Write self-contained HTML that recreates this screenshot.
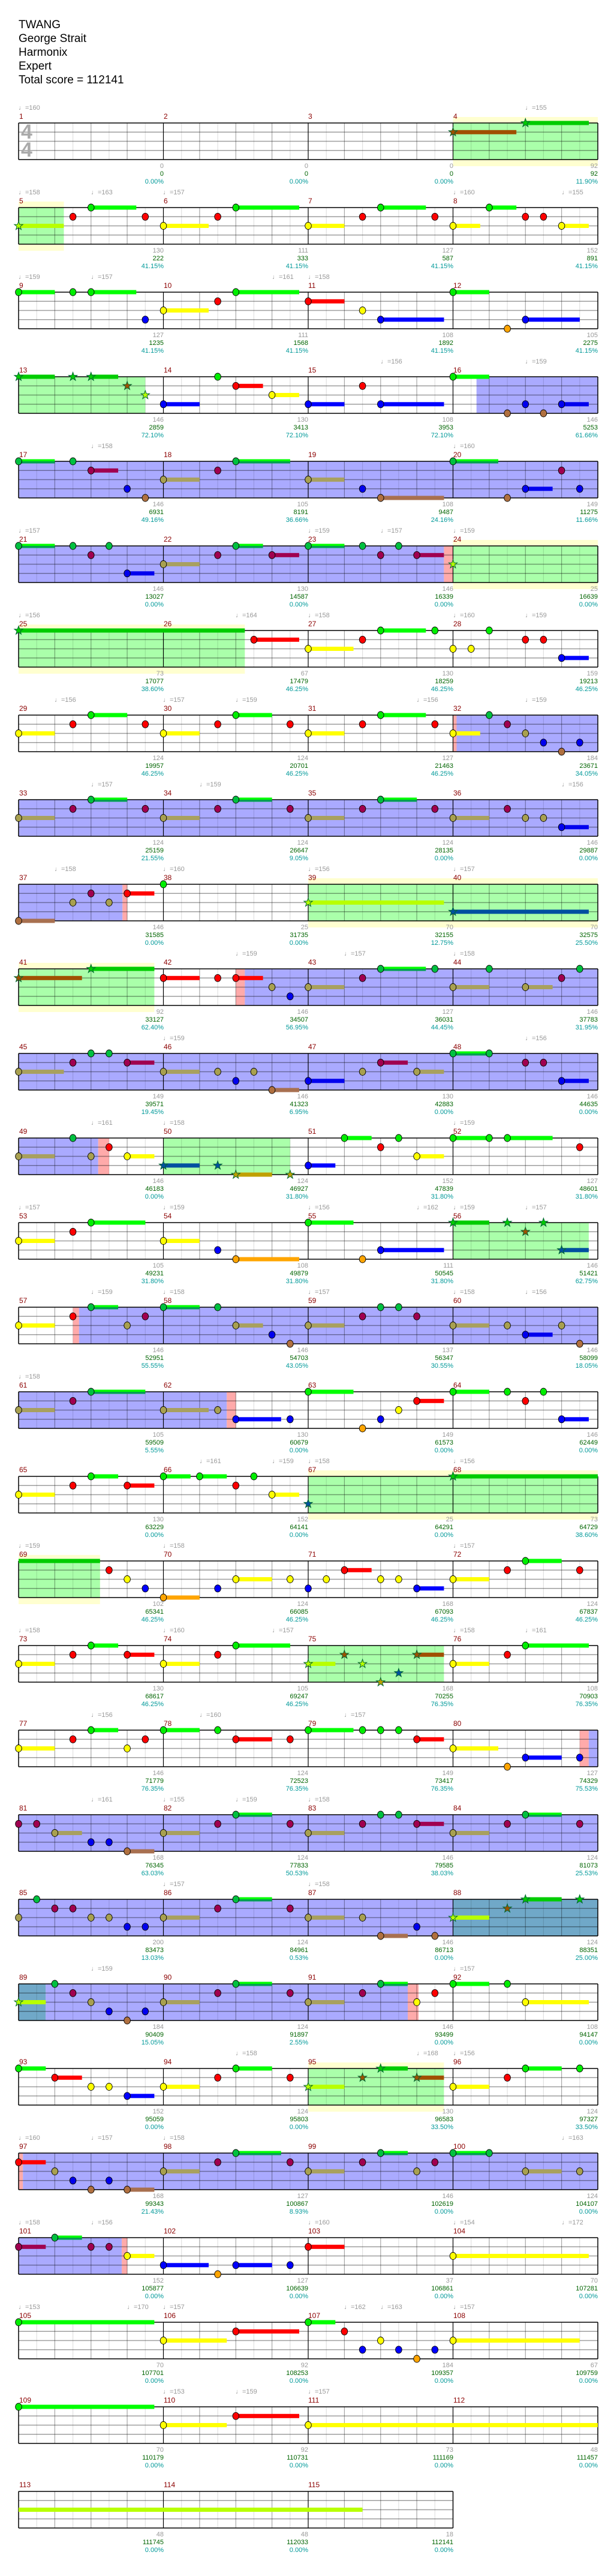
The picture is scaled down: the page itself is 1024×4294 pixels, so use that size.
<!DOCTYPE html>
<html><head><meta charset="utf-8">
<style>
body{margin:0;width:1024px;height:4294px;background:#fff;position:relative;overflow:hidden;font-family:"Liberation Sans","DejaVu Sans",sans-serif}
#svg{position:absolute;left:0;top:0}
.title{position:absolute;left:31px;top:30px;font:19px/23px "Liberation Sans",sans-serif;color:#000}
.ts{position:absolute;left:35px;font:bold 34px/34px "Liberation Sans",sans-serif;color:#aaa}
.r{position:absolute;left:0;width:1024px;height:1px}
.r i{position:absolute;top:-18px;font:12px/14px "Liberation Sans",sans-serif;color:#8b0000;font-style:normal}
.r u{position:absolute;top:-31px;font:11px/13px "Liberation Sans","DejaVu Sans",sans-serif;color:#999;text-decoration:none;white-space:nowrap}
.r p{position:absolute;top:66px;margin:0;text-align:right;font:11px/13px "Liberation Sans",sans-serif;color:#999}
.r p b{font-weight:normal;color:#006400}
.r p var{font-style:normal;color:#009999}
</style></head><body>
<svg id="svg" width="1024" height="4294" xmlns="http://www.w3.org/2000/svg"></svg>
<div class="title">TWANG<br>George Strait<br>Harmonix<br>Expert<br>Total score = 112141</div>
<div class="ts" style="top:203px">4</div>
<div class="ts" style="top:233px">4</div>

<div class="r" style="top:205px"><u style="left:31px">♩=160</u><u style="left:876px">♩=155</u>
<i style="left:32px">1</i><i style="left:273px">2</i><i style="left:514px">3</i><i style="left:756px">4</i>
<p style="right:751px">0<br><b>0</b><br><var>0.00%</var></p><p style="right:510px">0<br><b>0</b><br><var>0.00%</var></p><p style="right:268px">0<br><b>0</b><br><var>0.00%</var></p><p style="right:27px">92<br><b>92</b><br><var>11.90%</var></p></div>

<div class="r" style="top:346px"><u style="left:31px">♩=158</u><u style="left:152px">♩=163</u><u style="left:272px">♩=157</u><u style="left:756px">♩=160</u><u style="left:937px">♩=155</u>
<i style="left:32px">5</i><i style="left:273px">6</i><i style="left:514px">7</i><i style="left:756px">8</i>
<p style="right:751px">130<br><b>222</b><br><var>41.15%</var></p><p style="right:510px">111<br><b>333</b><br><var>41.15%</var></p><p style="right:268px">127<br><b>587</b><br><var>41.15%</var></p><p style="right:27px">152<br><b>891</b><br><var>41.15%</var></p></div>

<div class="r" style="top:487px"><u style="left:31px">♩=159</u><u style="left:152px">♩=157</u><u style="left:454px">♩=161</u><u style="left:514px">♩=158</u>
<i style="left:32px">9</i><i style="left:273px">10</i><i style="left:514px">11</i><i style="left:756px">12</i>
<p style="right:751px">127<br><b>1235</b><br><var>41.15%</var></p><p style="right:510px">111<br><b>1568</b><br><var>41.15%</var></p><p style="right:268px">108<br><b>1892</b><br><var>41.15%</var></p><p style="right:27px">105<br><b>2275</b><br><var>41.15%</var></p></div>

<div class="r" style="top:628px"><u style="left:635px">♩=156</u><u style="left:876px">♩=159</u>
<i style="left:32px">13</i><i style="left:273px">14</i><i style="left:514px">15</i><i style="left:756px">16</i>
<p style="right:751px">146<br><b>2859</b><br><var>72.10%</var></p><p style="right:510px">130<br><b>3413</b><br><var>72.10%</var></p><p style="right:268px">108<br><b>3953</b><br><var>72.10%</var></p><p style="right:27px">146<br><b>5253</b><br><var>61.66%</var></p></div>

<div class="r" style="top:769px"><u style="left:152px">♩=158</u><u style="left:756px">♩=160</u>
<i style="left:32px">17</i><i style="left:273px">18</i><i style="left:514px">19</i><i style="left:756px">20</i>
<p style="right:751px">146<br><b>6931</b><br><var>49.16%</var></p><p style="right:510px">105<br><b>8191</b><br><var>36.66%</var></p><p style="right:268px">108<br><b>9487</b><br><var>24.16%</var></p><p style="right:27px">149<br><b>11275</b><br><var>11.66%</var></p></div>

<div class="r" style="top:910px"><u style="left:31px">♩=157</u><u style="left:514px">♩=159</u><u style="left:635px">♩=157</u><u style="left:756px">♩=159</u>
<i style="left:32px">21</i><i style="left:273px">22</i><i style="left:514px">23</i><i style="left:756px">24</i>
<p style="right:751px">146<br><b>13027</b><br><var>0.00%</var></p><p style="right:510px">130<br><b>14587</b><br><var>0.00%</var></p><p style="right:268px">146<br><b>16339</b><br><var>0.00%</var></p><p style="right:27px">25<br><b>16639</b><br><var>0.00%</var></p></div>

<div class="r" style="top:1051px"><u style="left:31px">♩=156</u><u style="left:393px">♩=164</u><u style="left:514px">♩=158</u><u style="left:756px">♩=160</u><u style="left:876px">♩=159</u>
<i style="left:32px">25</i><i style="left:273px">26</i><i style="left:514px">27</i><i style="left:756px">28</i>
<p style="right:751px">73<br><b>17077</b><br><var>38.60%</var></p><p style="right:510px">67<br><b>17479</b><br><var>46.25%</var></p><p style="right:268px">130<br><b>18259</b><br><var>46.25%</var></p><p style="right:27px">159<br><b>19213</b><br><var>46.25%</var></p></div>

<div class="r" style="top:1192px"><u style="left:91px">♩=156</u><u style="left:272px">♩=157</u><u style="left:393px">♩=159</u><u style="left:695px">♩=156</u><u style="left:876px">♩=159</u>
<i style="left:32px">29</i><i style="left:273px">30</i><i style="left:514px">31</i><i style="left:756px">32</i>
<p style="right:751px">124<br><b>19957</b><br><var>46.25%</var></p><p style="right:510px">124<br><b>20701</b><br><var>46.25%</var></p><p style="right:268px">127<br><b>21463</b><br><var>46.25%</var></p><p style="right:27px">184<br><b>23671</b><br><var>34.05%</var></p></div>

<div class="r" style="top:1333px"><u style="left:152px">♩=157</u><u style="left:333px">♩=159</u><u style="left:937px">♩=156</u>
<i style="left:32px">33</i><i style="left:273px">34</i><i style="left:514px">35</i><i style="left:756px">36</i>
<p style="right:751px">124<br><b>25159</b><br><var>21.55%</var></p><p style="right:510px">124<br><b>26647</b><br><var>9.05%</var></p><p style="right:268px">124<br><b>28135</b><br><var>0.00%</var></p><p style="right:27px">146<br><b>29887</b><br><var>0.00%</var></p></div>

<div class="r" style="top:1474px"><u style="left:91px">♩=158</u><u style="left:272px">♩=160</u><u style="left:514px">♩=156</u><u style="left:756px">♩=157</u>
<i style="left:32px">37</i><i style="left:273px">38</i><i style="left:514px">39</i><i style="left:756px">40</i>
<p style="right:751px">146<br><b>31585</b><br><var>0.00%</var></p><p style="right:510px">25<br><b>31735</b><br><var>0.00%</var></p><p style="right:268px">70<br><b>32155</b><br><var>12.75%</var></p><p style="right:27px">70<br><b>32575</b><br><var>25.50%</var></p></div>

<div class="r" style="top:1615px"><u style="left:393px">♩=159</u><u style="left:574px">♩=157</u><u style="left:756px">♩=158</u>
<i style="left:32px">41</i><i style="left:273px">42</i><i style="left:514px">43</i><i style="left:756px">44</i>
<p style="right:751px">92<br><b>33127</b><br><var>62.40%</var></p><p style="right:510px">146<br><b>34507</b><br><var>56.95%</var></p><p style="right:268px">127<br><b>36031</b><br><var>44.45%</var></p><p style="right:27px">146<br><b>37783</b><br><var>31.95%</var></p></div>

<div class="r" style="top:1756px"><u style="left:272px">♩=159</u><u style="left:876px">♩=156</u>
<i style="left:32px">45</i><i style="left:273px">46</i><i style="left:514px">47</i><i style="left:756px">48</i>
<p style="right:751px">149<br><b>39571</b><br><var>19.45%</var></p><p style="right:510px">146<br><b>41323</b><br><var>6.95%</var></p><p style="right:268px">130<br><b>42883</b><br><var>0.00%</var></p><p style="right:27px">146<br><b>44635</b><br><var>0.00%</var></p></div>

<div class="r" style="top:1897px"><u style="left:152px">♩=161</u><u style="left:272px">♩=158</u><u style="left:756px">♩=159</u>
<i style="left:32px">49</i><i style="left:273px">50</i><i style="left:514px">51</i><i style="left:756px">52</i>
<p style="right:751px">146<br><b>46183</b><br><var>0.00%</var></p><p style="right:510px">124<br><b>46927</b><br><var>31.80%</var></p><p style="right:268px">152<br><b>47839</b><br><var>31.80%</var></p><p style="right:27px">127<br><b>48601</b><br><var>31.80%</var></p></div>

<div class="r" style="top:2038px"><u style="left:31px">♩=157</u><u style="left:272px">♩=159</u><u style="left:514px">♩=156</u><u style="left:695px">♩=162</u><u style="left:756px">♩=159</u><u style="left:876px">♩=157</u>
<i style="left:32px">53</i><i style="left:273px">54</i><i style="left:514px">55</i><i style="left:756px">56</i>
<p style="right:751px">105<br><b>49231</b><br><var>31.80%</var></p><p style="right:510px">108<br><b>49879</b><br><var>31.80%</var></p><p style="right:268px">111<br><b>50545</b><br><var>31.80%</var></p><p style="right:27px">146<br><b>51421</b><br><var>62.75%</var></p></div>

<div class="r" style="top:2179px"><u style="left:152px">♩=159</u><u style="left:272px">♩=158</u><u style="left:514px">♩=157</u><u style="left:756px">♩=158</u><u style="left:876px">♩=156</u>
<i style="left:32px">57</i><i style="left:273px">58</i><i style="left:514px">59</i><i style="left:756px">60</i>
<p style="right:751px">146<br><b>52951</b><br><var>55.55%</var></p><p style="right:510px">146<br><b>54703</b><br><var>43.05%</var></p><p style="right:268px">137<br><b>56347</b><br><var>30.55%</var></p><p style="right:27px">146<br><b>58099</b><br><var>18.05%</var></p></div>

<div class="r" style="top:2320px"><u style="left:31px">♩=158</u>
<i style="left:32px">61</i><i style="left:273px">62</i><i style="left:514px">63</i><i style="left:756px">64</i>
<p style="right:751px">105<br><b>59509</b><br><var>5.55%</var></p><p style="right:510px">130<br><b>60679</b><br><var>0.00%</var></p><p style="right:268px">149<br><b>61573</b><br><var>0.00%</var></p><p style="right:27px">146<br><b>62449</b><br><var>0.00%</var></p></div>

<div class="r" style="top:2461px"><u style="left:333px">♩=161</u><u style="left:454px">♩=159</u><u style="left:514px">♩=158</u><u style="left:756px">♩=156</u>
<i style="left:32px">65</i><i style="left:273px">66</i><i style="left:514px">67</i><i style="left:756px">68</i>
<p style="right:751px">130<br><b>63229</b><br><var>0.00%</var></p><p style="right:510px">152<br><b>64141</b><br><var>0.00%</var></p><p style="right:268px">25<br><b>64291</b><br><var>0.00%</var></p><p style="right:27px">73<br><b>64729</b><br><var>38.60%</var></p></div>

<div class="r" style="top:2602px"><u style="left:31px">♩=159</u><u style="left:272px">♩=158</u><u style="left:756px">♩=157</u>
<i style="left:32px">69</i><i style="left:273px">70</i><i style="left:514px">71</i><i style="left:756px">72</i>
<p style="right:751px">102<br><b>65341</b><br><var>46.25%</var></p><p style="right:510px">124<br><b>66085</b><br><var>46.25%</var></p><p style="right:268px">168<br><b>67093</b><br><var>46.25%</var></p><p style="right:27px">124<br><b>67837</b><br><var>46.25%</var></p></div>

<div class="r" style="top:2743px"><u style="left:31px">♩=158</u><u style="left:272px">♩=160</u><u style="left:454px">♩=157</u><u style="left:756px">♩=158</u><u style="left:876px">♩=161</u>
<i style="left:32px">73</i><i style="left:273px">74</i><i style="left:514px">75</i><i style="left:756px">76</i>
<p style="right:751px">130<br><b>68617</b><br><var>46.25%</var></p><p style="right:510px">105<br><b>69247</b><br><var>46.25%</var></p><p style="right:268px">168<br><b>70255</b><br><var>76.35%</var></p><p style="right:27px">108<br><b>70903</b><br><var>76.35%</var></p></div>

<div class="r" style="top:2884px"><u style="left:152px">♩=156</u><u style="left:333px">♩=160</u><u style="left:574px">♩=157</u>
<i style="left:32px">77</i><i style="left:273px">78</i><i style="left:514px">79</i><i style="left:756px">80</i>
<p style="right:751px">146<br><b>71779</b><br><var>76.35%</var></p><p style="right:510px">124<br><b>72523</b><br><var>76.35%</var></p><p style="right:268px">149<br><b>73417</b><br><var>76.35%</var></p><p style="right:27px">127<br><b>74329</b><br><var>75.53%</var></p></div>

<div class="r" style="top:3025px"><u style="left:152px">♩=161</u><u style="left:272px">♩=155</u><u style="left:393px">♩=159</u><u style="left:514px">♩=158</u>
<i style="left:32px">81</i><i style="left:273px">82</i><i style="left:514px">83</i><i style="left:756px">84</i>
<p style="right:751px">168<br><b>76345</b><br><var>63.03%</var></p><p style="right:510px">124<br><b>77833</b><br><var>50.53%</var></p><p style="right:268px">146<br><b>79585</b><br><var>38.03%</var></p><p style="right:27px">124<br><b>81073</b><br><var>25.53%</var></p></div>

<div class="r" style="top:3166px"><u style="left:272px">♩=157</u><u style="left:514px">♩=158</u>
<i style="left:32px">85</i><i style="left:273px">86</i><i style="left:514px">87</i><i style="left:756px">88</i>
<p style="right:751px">200<br><b>83473</b><br><var>13.03%</var></p><p style="right:510px">124<br><b>84961</b><br><var>0.53%</var></p><p style="right:268px">146<br><b>86713</b><br><var>0.00%</var></p><p style="right:27px">124<br><b>88351</b><br><var>25.00%</var></p></div>

<div class="r" style="top:3307px"><u style="left:152px">♩=159</u><u style="left:756px">♩=157</u>
<i style="left:32px">89</i><i style="left:273px">90</i><i style="left:514px">91</i><i style="left:756px">92</i>
<p style="right:751px">184<br><b>90409</b><br><var>15.05%</var></p><p style="right:510px">124<br><b>91897</b><br><var>2.55%</var></p><p style="right:268px">146<br><b>93499</b><br><var>0.00%</var></p><p style="right:27px">108<br><b>94147</b><br><var>0.00%</var></p></div>

<div class="r" style="top:3448px"><u style="left:393px">♩=158</u><u style="left:695px">♩=168</u><u style="left:756px">♩=156</u>
<i style="left:32px">93</i><i style="left:273px">94</i><i style="left:514px">95</i><i style="left:756px">96</i>
<p style="right:751px">152<br><b>95059</b><br><var>0.00%</var></p><p style="right:510px">124<br><b>95803</b><br><var>0.00%</var></p><p style="right:268px">130<br><b>96583</b><br><var>33.50%</var></p><p style="right:27px">124<br><b>97327</b><br><var>33.50%</var></p></div>

<div class="r" style="top:3589px"><u style="left:31px">♩=160</u><u style="left:152px">♩=157</u><u style="left:272px">♩=158</u><u style="left:937px">♩=163</u>
<i style="left:32px">97</i><i style="left:273px">98</i><i style="left:514px">99</i><i style="left:756px">100</i>
<p style="right:751px">168<br><b>99343</b><br><var>21.43%</var></p><p style="right:510px">127<br><b>100867</b><br><var>8.93%</var></p><p style="right:268px">146<br><b>102619</b><br><var>0.00%</var></p><p style="right:27px">124<br><b>104107</b><br><var>0.00%</var></p></div>

<div class="r" style="top:3730px"><u style="left:31px">♩=158</u><u style="left:152px">♩=156</u><u style="left:514px">♩=160</u><u style="left:756px">♩=154</u><u style="left:937px">♩=172</u>
<i style="left:32px">101</i><i style="left:273px">102</i><i style="left:514px">103</i><i style="left:756px">104</i>
<p style="right:751px">152<br><b>105877</b><br><var>0.00%</var></p><p style="right:510px">127<br><b>106639</b><br><var>0.00%</var></p><p style="right:268px">37<br><b>106861</b><br><var>0.00%</var></p><p style="right:27px">70<br><b>107281</b><br><var>0.00%</var></p></div>

<div class="r" style="top:3871px"><u style="left:31px">♩=153</u><u style="left:212px">♩=170</u><u style="left:272px">♩=157</u><u style="left:574px">♩=162</u><u style="left:635px">♩=163</u><u style="left:756px">♩=157</u>
<i style="left:32px">105</i><i style="left:273px">106</i><i style="left:514px">107</i><i style="left:756px">108</i>
<p style="right:751px">70<br><b>107701</b><br><var>0.00%</var></p><p style="right:510px">92<br><b>108253</b><br><var>0.00%</var></p><p style="right:268px">184<br><b>109357</b><br><var>0.00%</var></p><p style="right:27px">67<br><b>109759</b><br><var>0.00%</var></p></div>

<div class="r" style="top:4012px"><u style="left:272px">♩=153</u><u style="left:393px">♩=159</u><u style="left:514px">♩=157</u>
<i style="left:32px">109</i><i style="left:273px">110</i><i style="left:514px">111</i><i style="left:756px">112</i>
<p style="right:751px">70<br><b>110179</b><br><var>0.00%</var></p><p style="right:510px">92<br><b>110731</b><br><var>0.00%</var></p><p style="right:268px">73<br><b>111169</b><br><var>0.00%</var></p><p style="right:27px">48<br><b>111457</b><br><var>0.00%</var></p></div>

<div class="r" style="top:4153px">
<i style="left:32px">113</i><i style="left:273px">114</i><i style="left:514px">115</i>
<p style="right:751px">48<br><b>111745</b><br><var>0.00%</var></p><p style="right:510px">48<br><b>112033</b><br><var>0.00%</var></p><p style="right:268px">18<br><b>112141</b><br><var>0.00%</var></p></div>

<script>
const rows=[
[[['g',12,16,1]],[[12,1,1.75,1],[14,0,1.75,1]]],
[[['g',0,1.25,1]],[[0,2,1.25,1],[1.5,1],[2,0,1.25],[3.5,1],[4,2,1.25],[5.5,1],[6,0,1.75],[8,2,1],[9.5,1],[10,0,1.25],[11.5,1],[12,2,.75],[13,0,.75],[14,1],[14.5,1],[15,2,.75]]],
[[],[[0,0,1],[1.5,0],[2,0,1.25],[3.5,3],[4,2,1.25],[5.5,1],[6,0,1.75],[8,1,1],[9.5,2],[10,3,1.75],[12,0,1],[13.5,4],[14,3,1.5]]],
[[['g',0,3.5],['b',12.65,16]],[[0,0,1,1],[1.5,0,0,1],[2,0,.75,1],[3,1,0,1],[3.5,2,0,1],[4,3,1],[5.5,0],[6,1,.75],[7,2,.75],[8,3,1],[9.5,1],[10,3,1.75],[12,0,1],[13.5,4],[14,3],[14.5,4],[15,3,.75]]],
[[['b',0,16]],[[0,0,1],[1.5,0],[2,1,.75],[3,3],[3.5,4],[4,2,1],[5.5,1],[6,0,1.5],[8,2,1],[9.5,3],[10,4,1.75],[12,0,1.25],[13.5,4],[14,3,.75],[15,1],[15.5,3]]],
[[['b',0,11.75],['r',11.75,12],['g',12,16,1]],[[0,0,1],[1.5,0],[2.5,0],[2,1],[3,3,.75],[4,2,1],[5.5,1],[6,0,.75],[7,1,.75],[8,0,1],[9.5,0],[10.5,0],[10,1],[11,1,.75],[12,2,0,1]]],
[[['g',0,6.25,1]],[[0,0,6.25,1],[6.5,1,1.25],[8,2,1.25],[9.5,1],[10,0,1.25],[11.5,0],[12,2],[12.5,2],[13,0],[14,1],[14.5,1],[15,3,.75]]],
[[['r',12,12.1],['b',12.1,16]],[[0,2,1],[1.5,1],[2,0,1],[3.5,1],[4,2,1],[5.5,1],[6,0,1],[7.5,1],[8,2,1],[9.5,1],[10,0,1.25],[11.5,1],[12,2,.75],[13,0],[13.5,1],[14,2],[14.5,3],[15,4],[15.5,3]]],
[[['b',0,16]],[[0,2,1],[1.5,1],[2,0,1],[3.5,1],[4,2,1],[5.5,1],[6,0,1],[7.5,1],[8,2,1],[9.5,1],[10,0,1],[11.5,1],[12,2,1],[13.5,1],[14,2],[14.5,2],[15,3,.75]]],
[[['b',0,2.87],['r',2.87,3],['g',8,16,1]],[[0,4,1],[1.5,2],[2,1],[2.5,2],[3,1,.75],[4,0],[8,2,3.75,1],[12,3,3.75,1]]],
[[['g',0,3.75,1],['r',6,6.25],['b',6.25,16]],[[0,1,1.75,1],[2,0,1.75,1],[4,1,1],[5.5,1],[6,1,.75],[7,2],[7.5,3],[8,2,1],[9.5,1],[10,0,1.25],[11.5,0],[12,2,1],[13,0],[14,2,.75],[15,1],[15.5,0]]],
[[['b',0,16]],[[0,2,1.25],[1.5,1],[2,0],[2.5,0],[3,1,.75],[4,2,1],[5.5,2],[6,3],[6.5,2],[7,4,.75],[8,3,1],[9.5,2],[10,1,.75],[11,2,.75],[12,0,1],[13,0],[14,1],[14.5,1],[15,3,.75]]],
[[['b',0,2.2],['r',2.2,2.5],['g',4,7.5]],[[0,2,1],[1.5,0],[2,2],[2.5,1],[3,2,.75],[4,3,1,1],[5.5,3,0,1],[6,4,1,1],[7.5,4,0,1],[8,3,.75],[9,0,.75],[10,1],[10.5,0],[11,2,.75],[12,0,1],[13,0],[13.5,0,1.25],[15.5,1]]],
[[['g',12,15.75]],[[0,2,1],[1.5,1],[2,0,1.5],[4,2,1],[5.5,3],[6,4,1.75],[8,0,1.25],[9.5,4],[10,3,1.75],[12,0,1,1],[13.5,0,0,1],[14,1,0,1],[14.5,0,0,1],[15,3,.75,1]]],
[[['r',1.5,1.67],['b',1.67,16]],[[0,2,1],[1.5,1],[2,0,.75],[3,2],[3.5,1],[4,0,1],[5.5,0],[6,2,.75],[7,3],[7.5,4],[8,2,1],[9.5,1],[10,0],[10.5,0],[11,1],[12,2,1],[13.5,2],[14,3,.75],[15,2],[15.5,4]]],
[[['b',0,5.75],['r',5.75,6]],[[0,2,1],[1.5,1],[2,0,1.5],[4,2,1.25],[5.5,2],[6,3,1.25],[7.5,3],[8,0,1.25],[9.5,4],[10,3],[10.5,2],[11,1,.75],[12,0,1],[13.5,0],[14,1],[14.5,0],[15,3,.75]]],
[[['g',8,16,1]],[[0,2,1],[1.5,1],[2,0,.75],[3,1,.75],[4,0,.75],[5,0,.75],[6,1],[6.5,0],[7,2,.75],[8,3,0,1],[12,0,4,1]]],
[[['g',0,2.25,1]],[[0,0,2.25,2],[2.5,1],[3,2],[3.5,3],[4,4,1],[5.5,3],[6,2,1],[7.5,2],[8,3],[8.5,2],[9,1,.75],[10,2],[10.5,2],[11,3,.75],[12,2,1],[13.5,1],[14,0,1],[15.5,1]]],
[[['g',8,11.75]],[[0,2,1],[1.5,1],[2,0,.75],[3,1,.75],[4,2,1],[5.5,1],[6,0,1.5],[8,2,.75,1],[9,1,0,1],[9.5,2,0,1],[10,4,0,1],[10.5,3,0,1],[11,1,.75,1],[12,2,1],[13.5,1],[14,0,1.75]]],
[[['r',15.5,15.75],['b',15.75,16]],[[0,2,1],[1.5,1],[2,0,.75],[3,2],[3.5,1],[4,0,1],[5.5,0],[6,1,1],[7.5,1],[8,0,1.25],[9.5,0],[10,0],[10.5,0],[11,1,.75],[12,2,1.25],[13.5,4],[14,3,1],[15.5,3]]],
[[['b',0,16]],[[0,1],[0.5,1],[1,2,.75],[2,3],[2.5,3],[3,4,.75],[4,2,1],[5.5,1],[6,0,1],[7.5,1],[8,2,1],[9.5,1],[10,0],[10.5,0],[11,1,.75],[12,2,1],[13.5,1],[14,0,1],[15.5,1]]],
[[['b',0,12],['t',12,16]],[[0,2],[0.5,0],[1,1],[1.5,1],[2,2],[2.5,2],[3,3],[3.5,3],[4,2,1],[5.5,1],[6,0,1],[7.5,1],[8,2,1],[9.5,2],[10,4,.75],[11,3],[11.5,4],[12,2,1,1],[13.5,1,0,1],[14,0,1,1],[15.5,0,0,1]]],
[[['t',0,.75],['b',.75,10.75],['r',10.75,11.05]],[[0,2,.75,1],[1,0],[1.5,1],[2,2],[2.5,3],[3,4],[3.5,3],[4,2,1],[5.5,1],[6,0,1],[7.5,1],[8,2,1],[9.5,1],[10,0,.75],[11,2],[11.5,1],[12,0,1],[13.5,0],[14,2,1.75]]],
[[['g',8,11.75,1]],[[0,0,.75],[1,1,.75],[2,2],[2.5,2],[3,3,.75],[4,2,1],[5.5,1],[6,0,1],[7.5,1],[8,2,1,1],[9.5,1,0,1],[10,0,.75,1],[11,1,.75,1],[12,2,1],[13.5,1],[14,0,1],[15.5,0]]],
[[['r',0,.12],['b',.12,16]],[[0,1,.75],[1,2],[1.5,3],[2,4],[2.5,3],[3,4,.75],[4,2,1],[5.5,1],[6,0,1.25],[7.5,1],[8,2,1],[9.5,1],[10,0,.75],[11,2],[11.5,1],[12,0,1],[13,0],[14,2,1],[15.5,2]]],
[[['b',0,2.85],['r',2.85,3]],[[0,1,.75],[1,0,.75],[2,1],[2.5,1],[3,2,.75],[4,3,1.25],[5.5,4],[6,3,1],[7.5,3],[8,1,1],[12,2,3.75]]],
[[],[[0,0,3.75],[4,2,1.75],[6,1,1.75],[8,0,.75],[9,1],[9.5,3],[10,2],[10.5,3],[11,4],[11.5,3],[12,2,3.5]]],
[[],[[0,0,3.75],[4,2,1.75],[6,1,1.75],[8,2,8]]],
[[],[[0,2,9.5,2]]]
];
const L=31,MW=241.5,BW=MW/4,LS=15.25,H=61;
const RC={g:'#aaffaa',b:'#aaaaff',t:'#70a8c8',r:'#ffaaaa'};
const NH=['#00ee00','#ff0000','#ffff00','#0000ff','#ffa500'];
const NS=['#00ff00','#ff0000','#ffff00','#0000ff','#ffa500'];
const BH=['#00c040','#a00050','#a8a050','#0000ee','#b07040'];
const BS=['#00a050','#a00050','#a8a060','#0000ee','#a87050'];
const SH=['#00cc00','#a05000','#b8ff00','#0050a0','#c0a000'];
let s='';
const R=(x,y,w,h,c)=>`<rect x="${x.toFixed(1)}" y="${y.toFixed(1)}" width="${w.toFixed(1)}" height="${h.toFixed(1)}" fill="${c}"/>`;
const Ln=(x1,y1,x2,y2,c,w)=>`<line x1="${x1.toFixed(1)}" y1="${y1.toFixed(1)}" x2="${x2.toFixed(1)}" y2="${y2.toFixed(1)}" stroke="${c}" stroke-width="${w}"/>`;
function star(cx,cy,c){let p=[];for(let k=0;k<10;k++){const a=-Math.PI/2+k*Math.PI/5,rr=k%2?3:7.5;p.push((cx+rr*Math.cos(a)).toFixed(1)+','+(cy+rr*Math.sin(a)).toFixed(1));}return `<polygon points="${p.join(' ')}" fill="${c}" stroke="#063" stroke-width="1"/>`;}
rows.forEach((row,r)=>{
 const T=205+141*r,nb=r==28?12:16,W=nb*BW;const regs=row[0],notes=row[1];
 regs.forEach(g=>{if(g[3])s+=R(L+g[1]*BW,T-10,(g[2]-g[1])*BW,H+21,'#ffffd0');});
 regs.forEach(g=>{s+=R(L+g[1]*BW,T,(g[2]-g[1])*BW,H,RC[g[0]]);});
 for(let k=1;k<nb*2;k++){const x=L+k*BW/2;let c=k%8==0?'#000':(k%2==0?'rgba(0,0,0,.35)':'rgba(0,0,0,.12)');s+=Ln(x,T,x,T+H,c,k%8==0?1.2:1.2);}
 s+=Ln(L,T,L,T+H,'#000',1.5);s+=Ln(L+W,T,L+W,T+H,'#000',1.5);
 for(let i=0;i<5;i++){const y=T+i*LS;s+=Ln(L,y,L+W,y,(i==0||i==4)?'#000':'rgba(0,0,0,.38)',1.5);}
 const inB=b=>regs.some(g=>(g[0]=='b'||g[0]=='t')&&b>=g[1]-0.01&&b<g[2]);
 notes.forEach(n=>{const [b,l,len=0,st=0]=n;if(!len)return;const x=L+b*BW,y=T+l*LS,w=len*BW;
  if(st)s+=R(x,y-3.5,w,7,SH[l]);
  else if(inB(b)){ if(l==0){s+=R(x,y-3.5,w,3.5,'#00ff00');s+=R(x,y,w,3.5,'#00a050');} else s+=R(x,y-3.5,w,7,BS[l]); }
  else s+=R(x,y-3.5,w,7,NS[l]);});
 notes.forEach(n=>{const [b,l,len=0,st=0]=n;if(st==2)return;const x=L+b*BW,y=T+l*LS;
  if(st==1)s+=star(x,y,SH[l]);
  else s+=`<ellipse cx="${x.toFixed(1)}" cy="${y.toFixed(1)}" rx="5.3" ry="6" fill="${inB(b)?BH[l]:NH[l]}" stroke="#000" stroke-width="0.9"/>`;});
});
document.getElementById('svg').innerHTML=s;
</script>
</body></html>
